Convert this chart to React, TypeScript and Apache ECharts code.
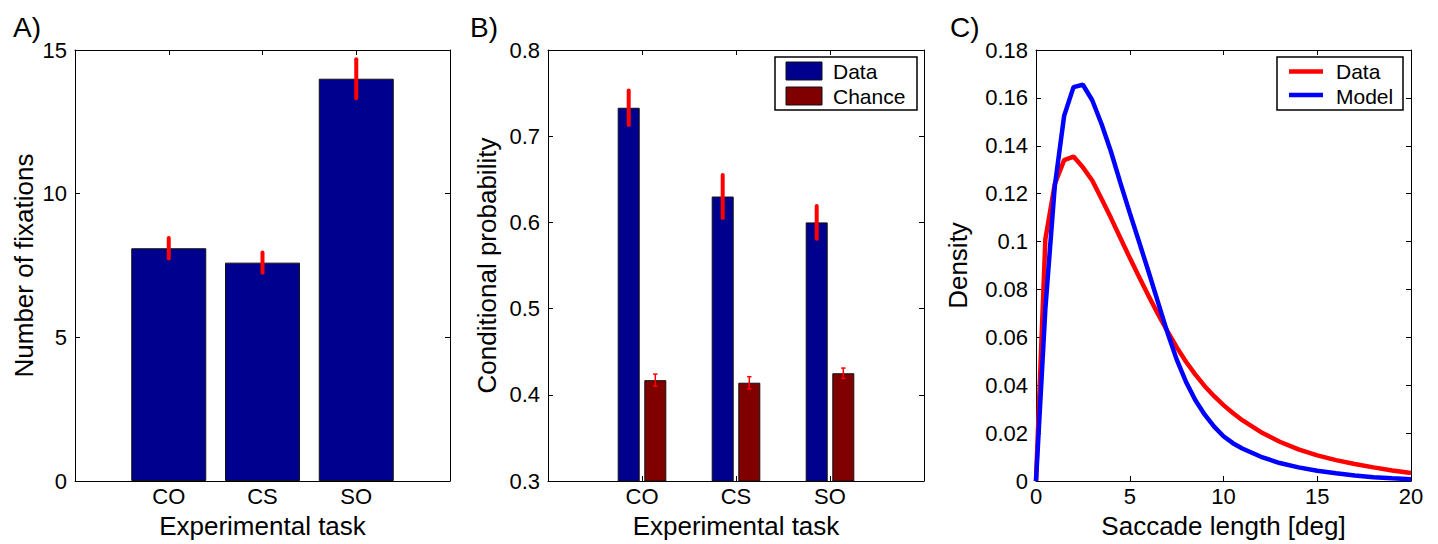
import React, { useEffect, useRef } from "react";
import * as echarts from "echarts";

// ---------------- data ----------------
const TASKS = ["CO", "CS", "SO"];
const TASK_POS = [1, 2, 3];

// Panel A: number of fixations
const FIX_MEAN = [8.1, 7.6, 14.0];
const FIX_ERR = [0.36, 0.35, 0.68];

// Panel B: conditional probability
const PROB_DATA = [0.733, 0.63, 0.6];
const PROB_DATA_ERR = [0.02, 0.025, 0.019];
const PROB_CHANCE = [0.417, 0.414, 0.425];
const PROB_CHANCE_ERR = [0.007, 0.007, 0.006];

// Panel C: saccade length density
const SACC_X = [0, 0.5, 1, 1.5, 2, 2.5, 3, 3.5, 4, 4.5, 5, 5.5, 6, 6.5, 7, 7.5, 8, 8.5, 9, 9.5, 10, 10.5, 11, 12, 13, 14, 15, 16, 17, 18, 19, 20];
const DENS_DATA = [0, 0.101, 0.124, 0.134, 0.1355, 0.131, 0.1255, 0.1178, 0.1098, 0.1015, 0.0932, 0.0852, 0.0774, 0.0698, 0.0627, 0.0559, 0.0498, 0.0444, 0.0396, 0.0354, 0.0317, 0.0284, 0.0254, 0.0204, 0.0164, 0.0132, 0.0107, 0.0087, 0.0071, 0.0057, 0.0044, 0.0033];
const DENS_MODEL = [0, 0.072, 0.123, 0.1525, 0.1645, 0.1655, 0.159, 0.149, 0.1375, 0.1245, 0.112, 0.0998, 0.0875, 0.0748, 0.0622, 0.0508, 0.0414, 0.0337, 0.0277, 0.0227, 0.0187, 0.0158, 0.0136, 0.0101, 0.0075, 0.0057, 0.0043, 0.0032, 0.0023, 0.0016, 0.0011, 0.0007];

// ---------------- styling ----------------
const FONT = "'Liberation Sans', Arial, Helvetica, sans-serif";
const NAVY = "#00008F";
const MAROON = "#800000";
const TICK_FS = 22;
const NAME_FS = 26;

const GRIDS = [
  { left: 75, top: 50, width: 375, height: 433 },
  { left: 548, top: 50, width: 376, height: 433 },
  { left: 1036, top: 50, width: 375, height: 433 },
];

const axisLine = { show: true, onZero: false, lineStyle: { color: "#000", width: 1 } };
const axisTick = { show: true, inside: true, length: 5, lineStyle: { color: "#000", width: 1 } };

function makeAxes(
  g: number,
  x: { min: number; max: number; interval: number; fmt: (v: number) => string; name: string },
  y: { min: number; max: number; interval: number; fmt: (v: number) => string; name: string; gap: number }
) {
  const xs = [
    {
      type: "value",
      gridIndex: g,
      position: "bottom",
      min: x.min,
      max: x.max,
      interval: x.interval,
      axisLine,
      axisTick,
      splitLine: { show: false },
      axisLabel: { show: true, margin: 4, color: "#000", fontSize: TICK_FS, fontFamily: FONT, formatter: x.fmt, showMinLabel: true, showMaxLabel: true },
      name: x.name,
      nameLocation: "middle",
      nameGap: 32,
      nameTextStyle: { color: "#000", fontSize: NAME_FS, fontFamily: FONT },
    },
    {
      type: "value",
      gridIndex: g,
      position: "top",
      min: x.min,
      max: x.max,
      interval: x.interval,
      axisLine,
      axisTick,
      splitLine: { show: false },
      axisLabel: { show: false },
    },
  ];
  const ys = [
    {
      type: "value",
      gridIndex: g,
      position: "left",
      min: y.min,
      max: y.max,
      interval: y.interval,
      axisLine,
      axisTick,
      splitLine: { show: false },
      axisLabel: { show: true, margin: 8, color: "#000", fontSize: TICK_FS, fontFamily: FONT, formatter: y.fmt, showMinLabel: true, showMaxLabel: true },
      name: y.name,
      nameLocation: "middle",
      nameGap: y.gap,
      nameTextStyle: { color: "#000", fontSize: NAME_FS, fontFamily: FONT },
    },
    {
      type: "value",
      gridIndex: g,
      position: "right",
      min: y.min,
      max: y.max,
      interval: y.interval,
      axisLine,
      axisTick,
      splitLine: { show: false },
      axisLabel: { show: false },
    },
  ];
  return { xs, ys };
}

const taskFmt = (v: number) => {
  const i = TASK_POS.indexOf(Math.round(v));
  return i >= 0 ? TASKS[i] : "";
};
const numFmt = (v: number) => (Math.abs(v) < 1e-9 ? "0" : String(+v.toFixed(2)));

const A = makeAxes(
  0,
  { min: 0, max: 4, interval: 1, fmt: taskFmt, name: "Experimental task" },
  { min: 0, max: 15, interval: 5, fmt: numFmt, name: "Number of fixations", gap: 38 }
);
const B = makeAxes(
  1,
  { min: 0, max: 4, interval: 1, fmt: taskFmt, name: "Experimental task" },
  { min: 0.3, max: 0.8, interval: 0.1, fmt: (v: number) => v.toFixed(1), name: "Conditional probability", gap: 48 }
);
const C = makeAxes(
  2,
  { min: 0, max: 20, interval: 5, fmt: numFmt, name: "Saccade length [deg]" },
  { min: 0, max: 0.18, interval: 0.02, fmt: numFmt, name: "Density", gap: 65 }
);

const BAR_W_A = 75;
const BAR_W_B = 22;
const BAR_GAP_B = 4.6;
const B_OFFSET = (BAR_W_B + BAR_GAP_B) / 2;

function errorSeries(
  xAxisIndex: number,
  yAxisIndex: number,
  means: number[],
  errs: number[],
  offsetPx: number,
  width: number,
  capHalf: number
) {
  return {
    type: "custom",
    xAxisIndex,
    yAxisIndex,
    z: 10,
    clip: false,
    encode: { x: 0, y: [1, 2] },
    data: means.map((m, i) => [TASK_POS[i], m - errs[i], m + errs[i]]),
    renderItem: (_p: any, api: any) => {
      const x = api.value(0);
      const lo = api.coord([x, api.value(1)]);
      const hi = api.coord([x, api.value(2)]);
      const cx = lo[0] + offsetPx;
      const style = { stroke: "#ff0000", lineWidth: width, lineCap: capHalf > 0 ? "butt" : "round" };
      const children: any[] = [
        { type: "line", shape: { x1: cx, y1: lo[1], x2: cx, y2: hi[1] }, style },
      ];
      if (capHalf > 0) {
        const cs = { stroke: "#ff0000", lineWidth: 1.5 };
        children.push({ type: "line", shape: { x1: cx - capHalf, y1: lo[1], x2: cx + capHalf, y2: lo[1] }, style: cs });
        children.push({ type: "line", shape: { x1: cx - capHalf, y1: hi[1], x2: cx + capHalf, y2: hi[1] }, style: cs });
      }
      return { type: "group", children };
    },
  };
}

const barEdge = { borderColor: "#111", borderWidth: 1 };

const option: any = {
  animation: false,
  backgroundColor: "#fff",
  textStyle: { fontFamily: FONT, color: "#000" },
  grid: GRIDS.map((g) => ({ ...g, containLabel: false })),
  xAxis: [...A.xs, ...B.xs, ...C.xs],
  yAxis: [...A.ys, ...B.ys, ...C.ys],
  series: [
    // Panel A
    {
      type: "bar",
      name: "Fixations",
      xAxisIndex: 0,
      yAxisIndex: 0,
      barWidth: BAR_W_A,
      itemStyle: { color: NAVY, ...barEdge },
      data: FIX_MEAN.map((v, i) => [TASK_POS[i], v]),
    },
    errorSeries(0, 0, FIX_MEAN, FIX_ERR, 0, 4, 0),
    // Panel B
    {
      type: "bar",
      name: "Data",
      xAxisIndex: 2,
      yAxisIndex: 2,
      barWidth: BAR_W_B,
      barGap: (BAR_GAP_B / BAR_W_B) * 100 + "%",
      itemStyle: { color: NAVY, ...barEdge },
      data: PROB_DATA.map((v, i) => [TASK_POS[i], v]),
    },
    {
      type: "bar",
      name: "Chance",
      xAxisIndex: 2,
      yAxisIndex: 2,
      barWidth: BAR_W_B,
      barGap: (BAR_GAP_B / BAR_W_B) * 100 + "%",
      itemStyle: { color: MAROON, ...barEdge },
      data: PROB_CHANCE.map((v, i) => [TASK_POS[i], v]),
    },
    errorSeries(2, 2, PROB_DATA, PROB_DATA_ERR, -B_OFFSET, 4, 0),
    errorSeries(2, 2, PROB_CHANCE, PROB_CHANCE_ERR, B_OFFSET, 1.5, 2.2),
    // Panel C
    {
      type: "line",
      name: "Data ",
      xAxisIndex: 4,
      yAxisIndex: 4,
      showSymbol: false,
      lineStyle: { color: "#ff0000", width: 4.5 },
      itemStyle: { color: "#ff0000" },
      data: SACC_X.map((x, i) => [x, DENS_DATA[i]]),
    },
    {
      type: "line",
      name: "Model",
      xAxisIndex: 4,
      yAxisIndex: 4,
      showSymbol: false,
      lineStyle: { color: "#0000ff", width: 4.5 },
      itemStyle: { color: "#0000ff" },
      data: SACC_X.map((x, i) => [x, DENS_MODEL[i]]),
    },
  ],
  graphic: [
    // panel letters
    { type: "text", left: 13, top: 13, style: { text: "A)", font: `28px ${FONT}`, fill: "#000" } },
    { type: "text", left: 470, top: 13, style: { text: "B)", font: `28px ${FONT}`, fill: "#000" } },
    { type: "text", left: 950, top: 13, style: { text: "C)", font: `28px ${FONT}`, fill: "#000" } },
    // legend B
    {
      type: "group",
      z: 100,
      children: [
        { type: "rect", shape: { x: 775, y: 57, width: 142, height: 53 }, style: { fill: "#fff", stroke: "#000", lineWidth: 1.5 } },
        { type: "rect", shape: { x: 786, y: 62, width: 36, height: 18 }, style: { fill: NAVY, stroke: "#111", lineWidth: 1 } },
        { type: "rect", shape: { x: 786, y: 87, width: 36, height: 18 }, style: { fill: MAROON, stroke: "#111", lineWidth: 1 } },
        { type: "text", x: 833, y: 71.5, style: { text: "Data", font: `21px ${FONT}`, fill: "#000", verticalAlign: "middle" } },
        { type: "text", x: 833, y: 96, style: { text: "Chance", font: `21px ${FONT}`, fill: "#000", verticalAlign: "middle" } },
      ],
    },
    // legend C
    {
      type: "group",
      z: 100,
      children: [
        { type: "rect", shape: { x: 1277, y: 57, width: 126, height: 53 }, style: { fill: "#fff", stroke: "#000", lineWidth: 1.5 } },
        { type: "line", shape: { x1: 1289, y1: 71.5, x2: 1323, y2: 71.5 }, style: { stroke: "#ff0000", lineWidth: 4.5 } },
        { type: "line", shape: { x1: 1289, y1: 95, x2: 1323, y2: 95 }, style: { stroke: "#0000ff", lineWidth: 4.5 } },
        { type: "text", x: 1336, y: 71.5, style: { text: "Data", font: `21px ${FONT}`, fill: "#000", verticalAlign: "middle" } },
        { type: "text", x: 1336, y: 96, style: { text: "Model", font: `21px ${FONT}`, fill: "#000", verticalAlign: "middle" } },
      ],
    },
  ],
};

export default function App() {
  const ref = useRef<HTMLDivElement>(null);
  useEffect(() => {
    document.body.style.margin = "0";
    const chart = echarts.init(ref.current as HTMLDivElement, null, { renderer: "svg" });
    chart.setOption(option);
    return () => chart.dispose();
  }, []);
  return <div ref={ref} style={{ width: 1438, height: 544, background: "#fff" }} />;
}
